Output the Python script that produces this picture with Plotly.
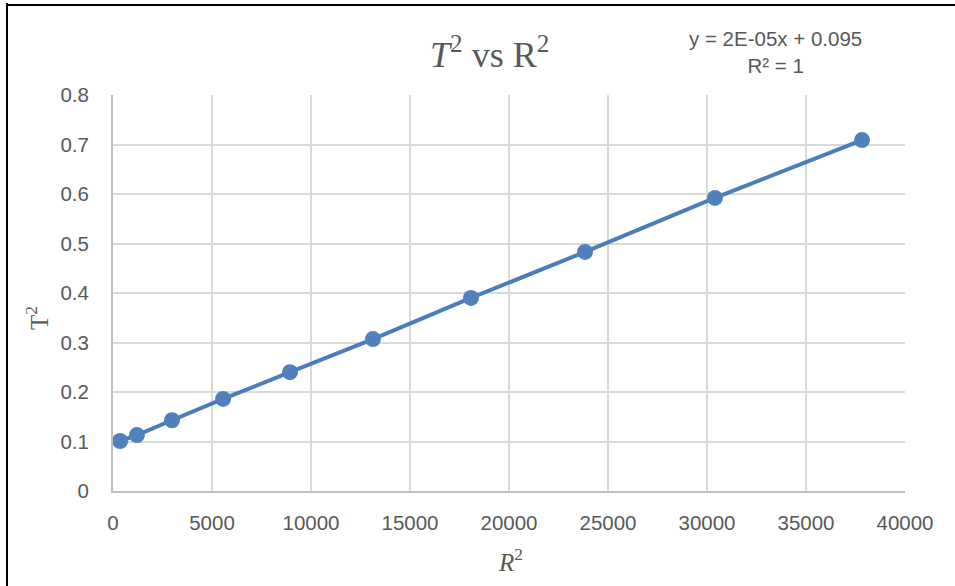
import plotly.graph_objects as go

r_squared = [360, 1210, 2980, 5560, 8940, 13130, 18080, 23840, 30400, 37830]
t_squared = [0.101, 0.113, 0.143, 0.186, 0.240, 0.307, 0.390, 0.483, 0.592, 0.709]

title_text = "<i>T</i><sup>2</sup> vs R<sup>2</sup>"
eq_text = "y = 2E-05x + 0.095<br>R² = 1"
xtitle_text = "<i>R</i><sup>2</sup>"
ytitle_text = "T<sup>2</sup>"

W, H = 955, 586
L, R, T, B = 113, 50, 95, 95
pw, ph = W - L - R, H - T - B

def px(x):
    return (x - L) / pw

def py(y):
    return (H - B - y) / ph

fig = go.Figure()
fig.add_trace(go.Scatter(
    x=r_squared, y=t_squared, mode="lines+markers",
    line=dict(color="#4A7EBB", width=4),
    marker=dict(color="#4F81BD", size=16),
    showlegend=False,
))

grey = "#595959"
fig.update_layout(
    width=W, height=H,
    margin=dict(l=L, r=R, t=T, b=B),
    paper_bgcolor="white", plot_bgcolor="white",
    font=dict(family="Liberation Sans, Arial", color=grey, size=20),
    xaxis=dict(range=[0, 40000], dtick=5000, tickformat="d",
               showgrid=True, gridcolor="#D9D9D9", gridwidth=1.5,
               showline=True, linecolor="#BFBFBF", linewidth=2,
               zeroline=False, ticks="", ticklabelstandoff=12,
               tickfont=dict(size=20.5, color=grey)),
    yaxis=dict(range=[0, 0.8], dtick=0.1,
               showgrid=True, gridcolor="#D9D9D9", gridwidth=1.5,
               showline=True, linecolor="#BFBFBF", linewidth=2,
               zeroline=False, ticks="", ticklabelstandoff=18,
               tickfont=dict(size=20.5, color=grey)),
    annotations=[
        dict(text=title_text, xref="paper", yref="paper", x=px(489), y=py(52),
             showarrow=False, xanchor="center", yanchor="middle",
             font=dict(family="Liberation Serif, Times New Roman", size=36, color=grey)),
        dict(text=eq_text, xref="paper", yref="paper", x=px(775), y=py(52),
             showarrow=False, xanchor="center", yanchor="middle", align="center",
             font=dict(family="Liberation Sans, Arial", size=20.5, color=grey)),
        dict(text=xtitle_text, xref="paper", yref="paper", x=px(510), y=py(560),
             showarrow=False, xanchor="center", yanchor="middle",
             font=dict(family="Liberation Serif, Times New Roman", size=25, color=grey)),
        dict(text=ytitle_text, xref="paper", yref="paper", x=px(37), y=py(318),
             showarrow=False, xanchor="center", yanchor="middle", textangle=-90,
             font=dict(family="Liberation Serif, Times New Roman", size=25, color=grey)),
    ],
    shapes=[
        dict(type="line", xref="paper", yref="paper", x0=px(7), x1=px(7), y0=py(3), y1=py(600),
             line=dict(color="black", width=2)),
        dict(type="line", xref="paper", yref="paper", x0=px(6), x1=px(960), y0=py(5), y1=py(5),
             line=dict(color="black", width=2)),
    ],
)

fig.write_html("out.html")
